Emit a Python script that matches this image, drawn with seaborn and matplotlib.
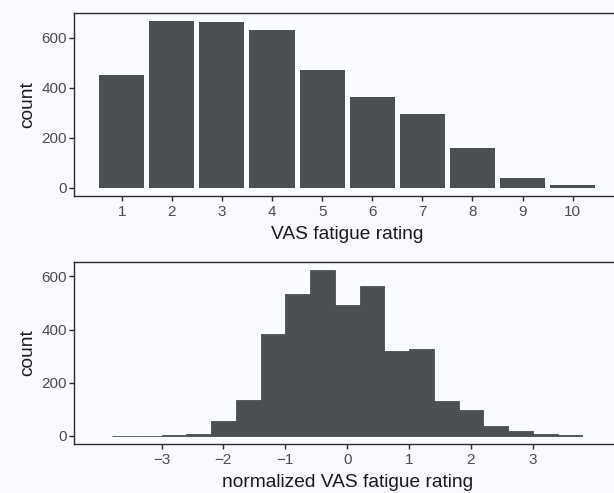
import numpy as np
import pandas as pd
import matplotlib
matplotlib.use("Agg")
import matplotlib.pyplot as plt
import seaborn as sns

### raw VAS ratings (1-10) and their counts
rating = [1, 2, 3, 4, 5, 6, 7, 8, 9, 10]
rating_count = [451, 666, 662, 630, 471, 364, 296, 157, 37, 9]

### normalized ratings, bin mids (width 0.4) and counts
norm_mid = [-3.6, -3.2, -2.8, -2.4, -2.0, -1.6, -1.2, -0.8, -0.4, 0.0,
            0.4, 0.8, 1.2, 1.6, 2.0, 2.4, 2.8, 3.2, 3.6]
norm_count = [1, 1, 3, 7, 56, 134, 382, 535, 624, 491,
              565, 319, 327, 133, 97, 37, 19, 7, 4]

bar_col = '#4b5054'
bg = '#f9fbfe'

sns.set_theme(style='ticks')
plt.rcParams['font.family'] = ['Liberation Sans', 'DejaVu Sans']
rcp = {'axes.edgecolor': '#2b2b2b', 'axes.linewidth': 1.0,
       'xtick.color': '#2b2b2b', 'ytick.color': '#2b2b2b',
       'xtick.labelcolor': '#4d4d4d', 'ytick.labelcolor': '#4d4d4d',
       'xtick.major.size': 3.3, 'ytick.major.size': 3.3,
       'xtick.major.width': 1.0, 'ytick.major.width': 1.0,
       'xtick.major.pad': 3.0, 'ytick.major.pad': 2.0,
       'xtick.labelsize': 11, 'ytick.labelsize': 11,
       'axes.labelsize': 13.8, 'axes.labelcolor': '#1a1a1a'}
plt.rcParams.update(rcp)

df_raw = pd.DataFrame({'rating': rating, 'n': rating_count})
df_norm = pd.DataFrame({'z': norm_mid, 'n': norm_count})

fig = plt.figure(figsize=(6.14, 4.93), dpi=100, facecolor=bg)
ax1 = fig.add_axes([0.121, 0.6024, 0.8888, 0.3719])
ax2 = fig.add_axes([0.121, 0.0988, 0.8888, 0.3704])

### top: discrete ratings
sns.histplot(data=df_raw, x='rating', weights='n', discrete=True, shrink=0.9,
             color=bar_col, alpha=1, edgecolor='none', linewidth=0, ax=ax1)
ax1.set_xlim(0.055, 10.945)
ax1.set_ylim(-33.3, 699.3)
ax1.set_xticks(rating)
ax1.set_yticks([0, 200, 400, 600])
ax1.set_xlabel('VAS fatigue rating', labelpad=5)
ax1.set_ylabel('count', labelpad=4)

### bottom: normalized ratings
sns.histplot(data=df_norm, x='z', weights='n', binwidth=0.4, binrange=(-3.8, 3.8),
             color=bar_col, alpha=1, edgecolor=bar_col, linewidth=0.6, ax=ax2)
ax2.set_xlim(-4.41, 4.41)
ax2.set_ylim(-31.2, 655)
ax2.set_xticks([-3, -2, -1, 0, 1, 2, 3])
ax2.set_yticks([0, 200, 400, 600])
ax2.set_xlabel('normalized VAS fatigue rating', labelpad=5)
ax2.set_ylabel('count', labelpad=4)

for ax in (ax1, ax2):
    ax.set_facecolor(bg)
    for s in ax.spines.values():
        s.set_visible(True)

fig.savefig('out.png', dpi=100, facecolor=bg)
